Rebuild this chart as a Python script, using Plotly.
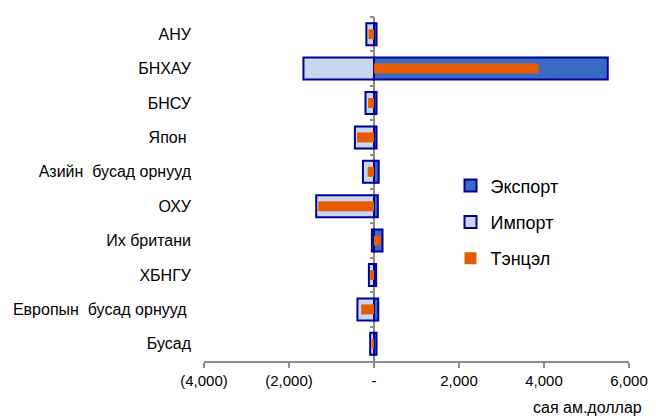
import plotly.graph_objects as go

categories = ["АНУ", "БНХАУ", "БНСУ", "Япон ", "Азийн  бусад орнууд",
              "ОХУ", "Их британи", "ХБНГУ", "Европын  бусад орнууд ", "Бусад"]
export_vals = [60, 5500, 60, 60, 110, 90, 200, 50, 100, 60]
import_vals = [-180, -1660, -200, -450, -260, -1360, -50, -120, -390, -90]
balance_vals = [-130, 3870, -140, -400, -150, -1310, 160, -90, -300, -50]

x_tickvals = [-4000, -2000, 0, 2000, 4000, 6000]
x_ticktext = ["(4,000)", "(2,000)", "-", "2,000", "4,000", "6,000"]

NAVY = "#000099"
GRAY = "#8C8C8C"
FONT = "Liberation Sans, Arial, sans-serif"

fig = go.Figure()
fig.add_trace(go.Bar(
    name="Экспорт", y=categories, x=export_vals, orientation="h",
    width=0.64, marker=dict(color="#3A6BC4", line=dict(color=NAVY, width=2)),
    legendgroup="a", legendrank=1))
fig.add_trace(go.Bar(
    name="Импорт", y=categories, x=import_vals, orientation="h",
    width=0.64, marker=dict(color="#C8D6EE", line=dict(color=NAVY, width=2)),
    legendgroup="b", legendrank=2))
fig.add_trace(go.Bar(
    name="Тэнцэл", y=categories, x=balance_vals, orientation="h",
    width=0.29, marker=dict(color="#E65C00", line=dict(width=0)),
    legendgroup="c", legendrank=3, yaxis="y2"))

# page body has an 8px offset; figure sized to compensate
W, H = 648, 408
L, R, T, B = 196, 27, 9, 55
zero_pos = (0 - (-4000)) / 10000

fig.update_layout(
    width=W, height=H,
    margin=dict(l=L, r=R, t=T, b=B, autoexpand=False),
    barmode="overlay",
    plot_bgcolor="white", paper_bgcolor="white",
    font=dict(family=FONT, size=16, color="#000000"),
    showlegend=True,
    legend=dict(
        x=0.58, y=0.403, xanchor="left", yanchor="middle",
        traceorder="grouped", tracegroupgap=10,
        font=dict(size=18, family=FONT, color="#000000"),
        bgcolor="rgba(0,0,0,0)", itemwidth=30,
    ),
    xaxis=dict(
        range=[-4000, 6000], tickvals=x_tickvals, ticktext=x_ticktext,
        showgrid=False, showline=True, linecolor=GRAY, linewidth=2,
        ticks="outside", ticklen=5, tickwidth=2, tickcolor=GRAY,
        zeroline=True, zerolinecolor=GRAY, zerolinewidth=2,
        layer="above traces", tickfont=dict(size=15), automargin=False,
    ),
    yaxis=dict(
        categoryorder="array", categoryarray=categories,
        autorange="reversed", showgrid=False, showline=False,
        ticks="", ticklabelstandoff=12, tickfont=dict(size=16),
        automargin=False,
    ),
    yaxis2=dict(
        overlaying="y", matches="y", anchor="free", position=zero_pos,
        side="left", showgrid=False, showline=False,
        ticks="outside", tickson="boundaries", ticklen=4, tickwidth=2,
        tickcolor=GRAY, showticklabels=False, layer="above traces",
        automargin=False,
    ),
    annotations=[dict(
        text="сая ам.доллар", xref="paper", yref="paper",
        x=1.035, y=-0.1366,
        xanchor="right", yanchor="middle", showarrow=False,
        font=dict(size=16, family=FONT, color="#000000"),
    )],
)

fig.write_html("out.html")
